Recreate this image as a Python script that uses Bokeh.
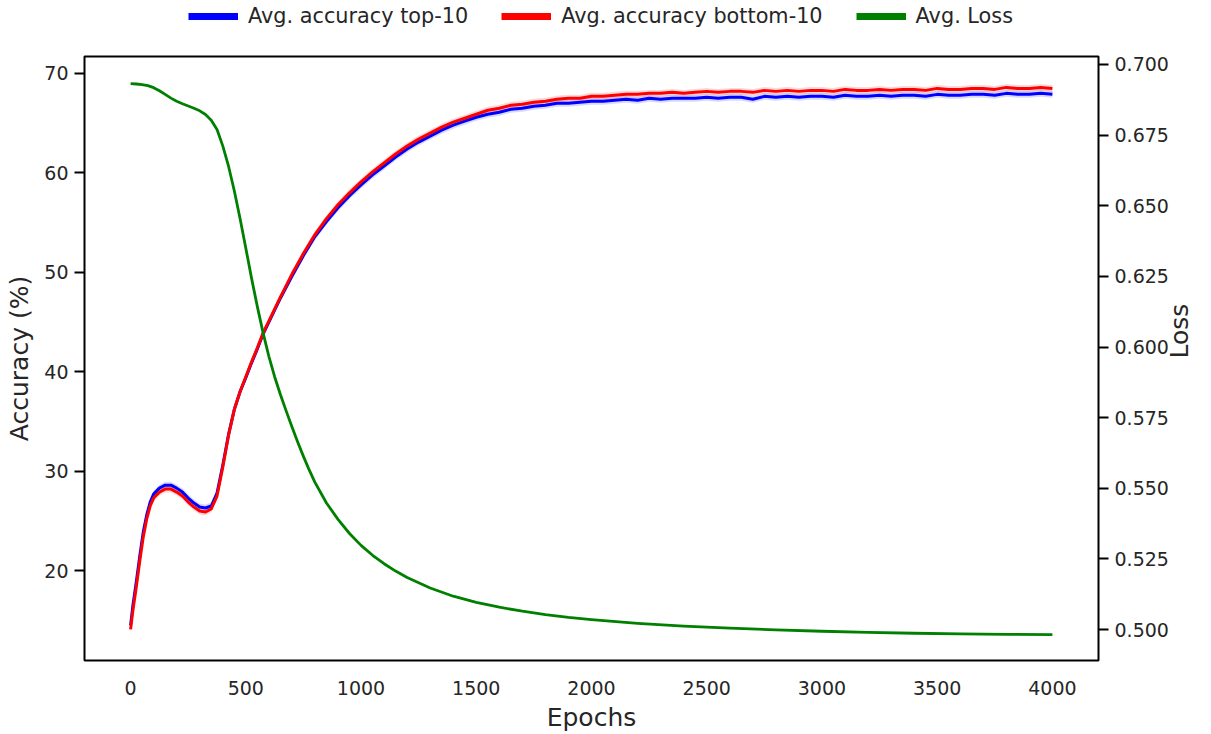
import math
from bokeh.plotting import figure
from bokeh.layouts import column
from bokeh.models import (Range1d, LinearAxis, Legend, LegendItem, ColumnDataSource,
                          FixedTicker, PrintfTickFormatter)
from bokeh.embed import file_html
from bokeh.resources import INLINE

# ---- data -------------------------------------------------------------
epochs_acc = [0, 10, 25, 40, 55, 70, 85, 100, 125, 150, 175, 200, 225, 250, 275,
              300, 325, 350, 375, 400, 425, 450, 475, 500, 525, 550, 575, 600,
              650, 700, 750, 800, 850, 900, 950, 1000, 1050, 1100, 1150, 1200,
              1250, 1300, 1350, 1400, 1450, 1500, 1550, 1600, 1650, 1700, 1750,
              1800, 1850, 1900, 1950, 2000, 2050, 2100, 2150, 2200, 2250, 2300,
              2350, 2400, 2450, 2500, 2550, 2600, 2650, 2700, 2750, 2800, 2850,
              2900, 2950, 3000, 3050, 3100, 3150, 3200, 3250, 3300, 3350, 3400,
              3450, 3500, 3550, 3600, 3650, 3700, 3750, 3800, 3850, 3900, 3950, 4000]

acc_top10 = [14.5, 16.5, 18.9, 21.5, 23.9, 25.6, 26.9, 27.7, 28.3, 28.6, 28.6, 28.3,
             27.9, 27.3, 26.8, 26.4, 26.3, 26.5, 27.8, 30.6, 33.7, 36.2, 38.0, 39.4,
             40.9, 42.3, 43.8, 45.0,
             47.4, 49.6, 51.7, 53.6, 55.1, 56.5, 57.7, 58.8, 59.8, 60.7, 61.6, 62.4,
             63.1, 63.7, 64.3, 64.8, 65.2, 65.6, 65.9, 66.1, 66.4, 66.5, 66.7,
             66.8, 67.0, 67.0, 67.1, 67.2, 67.2, 67.3, 67.4, 67.3, 67.5, 67.4,
             67.5, 67.5, 67.5, 67.6, 67.5, 67.6, 67.6, 67.4, 67.7, 67.6, 67.7,
             67.6, 67.7, 67.7, 67.6, 67.8, 67.7, 67.7, 67.8, 67.7, 67.8, 67.8,
             67.7, 67.9, 67.8, 67.8, 67.9, 67.9, 67.8, 68.0, 67.9, 67.9, 68.0, 67.9]

acc_bottom10 = [14.1, 16.0, 18.4, 21.0, 23.4, 25.2, 26.5, 27.3, 27.9, 28.2, 28.2, 27.9,
                27.5, 26.9, 26.4, 26.0, 25.9, 26.2, 27.5, 30.4, 33.6, 36.2, 38.0, 39.5,
                41.0, 42.4, 43.9, 45.1,
                47.5, 49.8, 51.9, 53.8, 55.4, 56.8, 58.0, 59.1, 60.1, 61.0, 61.9, 62.7,
                63.4, 64.0, 64.6, 65.1, 65.5, 65.9, 66.3, 66.5, 66.8, 66.9, 67.1,
                67.2, 67.4, 67.5, 67.5, 67.7, 67.7, 67.8, 67.9, 67.9, 68.0, 68.0,
                68.1, 68.0, 68.1, 68.2, 68.1, 68.2, 68.2, 68.1, 68.3, 68.2, 68.3,
                68.2, 68.3, 68.3, 68.2, 68.4, 68.3, 68.3, 68.4, 68.3, 68.4, 68.4,
                68.3, 68.5, 68.4, 68.4, 68.5, 68.5, 68.4, 68.6, 68.5, 68.5, 68.6, 68.5]

# spread (std over runs) drawn as a shaded band around each accuracy curve
spread_top10 = 0.35
spread_bottom10 = 0.35

epochs_loss = [0, 25, 50, 75, 100, 125, 150, 175, 200, 225, 250, 275, 300, 325, 350,
               375, 400, 425, 450, 475, 500, 525, 550, 575, 600, 625, 650, 675, 700,
               725, 750, 775, 800, 850, 900, 950, 1000, 1050, 1100, 1150, 1200, 1300,
               1400, 1500, 1600, 1700, 1800, 1900, 2000, 2200, 2400, 2600, 2800, 3000,
               3200, 3400, 3600, 3800, 4000]
avg_loss = [0.6932, 0.6931, 0.6929, 0.6925, 0.6918, 0.6907, 0.6894, 0.6881, 0.6870,
            0.6861, 0.6853, 0.6845, 0.6836, 0.6823, 0.6803, 0.6770, 0.6712, 0.6640,
            0.6553, 0.6455, 0.6350, 0.6243, 0.6143, 0.6050, 0.5967, 0.5895, 0.5832,
            0.5774, 0.5718, 0.5664, 0.5613, 0.5565, 0.5521, 0.5448, 0.5390, 0.5340,
            0.5298, 0.5263, 0.5233, 0.5207, 0.5184, 0.5147, 0.5118, 0.5096, 0.5079,
            0.5065, 0.5053, 0.5043, 0.5035, 0.5022, 0.5012, 0.5005, 0.4999, 0.4994,
            0.4990, 0.4987, 0.4985, 0.4983, 0.4982]

x_ticks = [0, 500, 1000, 1500, 2000, 2500, 3000, 3500, 4000]
acc_ticks = [20, 30, 40, 50, 60, 70]
loss_ticks = [0.500, 0.525, 0.550, 0.575, 0.600, 0.625, 0.650, 0.675, 0.700]

labels = ["Avg. accuracy top-10", "Avg. accuracy bottom-10", "Avg. Loss"]

# ---- styling ----------------------------------------------------------
FONT = "DejaVu Sans"
TXT = "#262626"
BLUE, RED, GREEN = "#0000ff", "#ff0000", "#008000"

acc = ColumnDataSource(dict(
    epoch=epochs_acc,
    top=acc_top10, top_lo=[v - spread_top10 for v in acc_top10],
    top_hi=[v + spread_top10 for v in acc_top10],
    bot=acc_bottom10, bot_lo=[v - spread_bottom10 for v in acc_bottom10],
    bot_hi=[v + spread_bottom10 for v in acc_bottom10],
))
loss = ColumnDataSource(dict(epoch=epochs_loss, loss=avg_loss))

# ---- main chart -------------------------------------------------------
p = figure(width=1211, height=682, output_backend="svg", toolbar_location=None,
           x_range=Range1d(-200, 4200), y_range=Range1d(10.964, 71.707),
           min_border_left=84, min_border_right=110, min_border_top=4,
           min_border_bottom=72)
p.extra_y_ranges = {"loss": Range1d(0.48905, 0.70283)}

p.grid.visible = False
p.outline_line_color = "black"
p.outline_line_width = 2
p.outline_line_alpha = 1.0
p.background_fill_color = "white"
p.border_fill_color = "white"

# accuracy bands and curves
p.varea(x="epoch", y1="top_lo", y2="top_hi", source=acc, fill_color=BLUE, fill_alpha=0.15)
p.varea(x="epoch", y1="bot_lo", y2="bot_hi", source=acc, fill_color=RED, fill_alpha=0.15)
p.line(x="epoch", y="top", source=acc, line_color=BLUE, line_width=3, line_join="round")
p.line(x="epoch", y="bot", source=acc, line_color=RED, line_width=3, line_join="round")
# loss on the secondary axis
p.line(x="epoch", y="loss", source=loss, line_color=GREEN, line_width=2.8,
       line_join="round", y_range_name="loss")

# axes
xa = p.xaxis[0]
xa.ticker = FixedTicker(ticks=x_ticks)
xa.axis_label = "Epochs"
xa.major_tick_line_color = None
xa.minor_tick_line_color = None
xa.axis_line_color = None
xa.major_label_standoff = 14
xa.axis_label_standoff = 5

ya = p.yaxis[0]
ya.ticker = FixedTicker(ticks=acc_ticks)
ya.axis_label = "Accuracy (%)"
ya.axis_line_color = None
ya.minor_tick_line_color = None
ya.major_tick_out = 10
ya.major_tick_in = 0
ya.major_tick_line_width = 2
ya.major_tick_line_color = "black"
ya.major_label_standoff = 6
ya.axis_label_standoff = 7

ra = LinearAxis(y_range_name="loss", ticker=FixedTicker(ticks=loss_ticks),
                formatter=PrintfTickFormatter(format="%.3f"), axis_label="Loss")
ra.axis_line_color = None
ra.minor_tick_line_color = None
ra.major_tick_out = 10
ra.major_tick_in = 0
ra.major_tick_line_width = 2
ra.major_tick_line_color = "black"
ra.major_label_standoff = 6
ra.axis_label_standoff = 8
ra.axis_label_orientation = math.pi / 2  # read bottom-to-top
p.add_layout(ra, "right")

for ax in (xa, ya, ra):
    ax.major_label_text_font = FONT
    ax.major_label_text_font_size = "19px"
    ax.major_label_text_color = TXT
    ax.axis_label_text_font = FONT
    ax.axis_label_text_font_size = "25px"
    ax.axis_label_text_font_style = "normal"
    ax.axis_label_text_color = TXT

# ---- legend strip above the chart -------------------------------------
# the swatch renderers sit outside this strip's visible range; only their
# legend glyphs (thick lines) are shown
leg = figure(width=1211, height=52, output_backend="svg", toolbar_location=None,
             x_range=Range1d(-30, -20), y_range=Range1d(0, 1),
             x_axis_location=None, y_axis_location=None, min_border=0)
leg.grid.visible = False
leg.outline_line_color = None
leg.background_fill_color = "white"
leg.border_fill_color = "white"
sw_top = leg.line(x="epoch", y="top", source=acc, line_color=BLUE, line_width=7)
sw_bot = leg.line(x="epoch", y="bot", source=acc, line_color=RED, line_width=7)
sw_loss = leg.line(x="epoch", y="loss", source=loss, line_color=GREEN, line_width=7)

legend = Legend(items=[LegendItem(label=l, renderers=[r])
                       for l, r in zip(labels, (sw_top, sw_bot, sw_loss))],
                orientation="horizontal", location=(104, 24), margin=0, padding=0,
                spacing=33, glyph_width=50, glyph_height=20, label_standoff=10,
                border_line_color=None, background_fill_alpha=0,
                label_text_font=FONT, label_text_font_size="20.8px",
                label_text_color=TXT)
leg.add_layout(legend, "center")

layout = column(leg, p, spacing=0)
open("out.html", "w").write(file_html(layout, INLINE))
